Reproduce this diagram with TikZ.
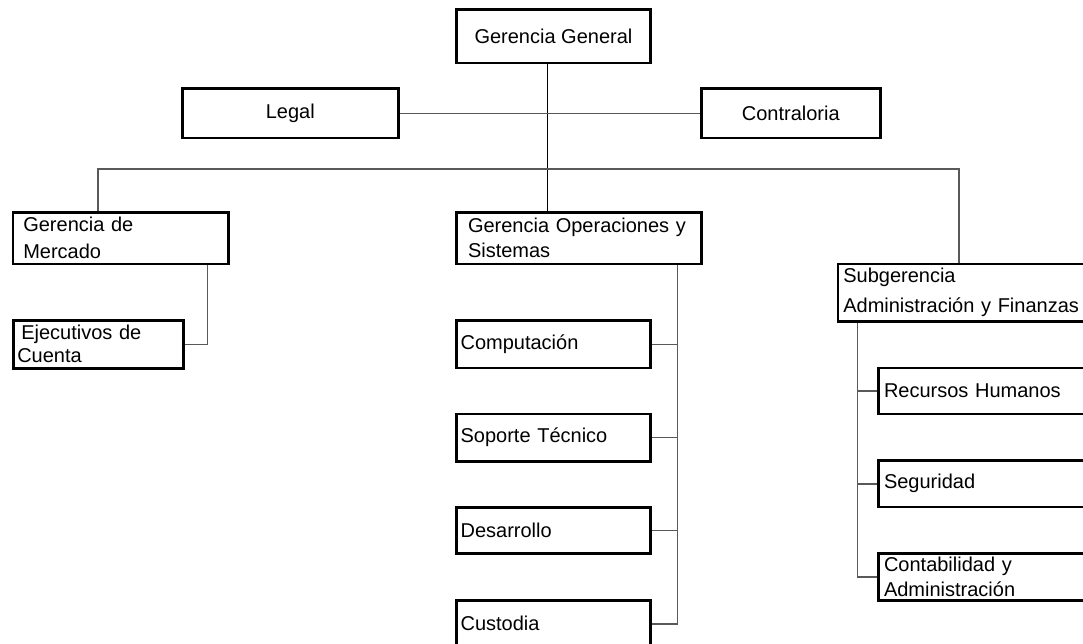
\documentclass[tikz,border=0pt]{standalone}
\usepackage{fontspec}
\setmainfont{Liberation Sans}
\begin{document}
\begin{tikzpicture}[x=1pt,y=-1pt]
\tikzset{
  box/.style={draw=black, line width=2.6pt, rectangle, inner ysep=0pt, anchor=north west,
              font=\fontsize{20}{27}\selectfont},
  cbox/.style={box, align=center, inner xsep=0pt},
  lbox/.style={box, align=left},
  conn/.style={draw=black!65, line width=1.4pt},
  connk/.style={draw=black, line width=0.9pt}
}
\useasboundingbox (0,0) rectangle (1083,644);
\clip (0,0) rectangle (1083,644);
\fill[white] (0,0) rectangle (1083,644);

% top level
\node[cbox, minimum width=194.3, minimum height=53.4] (gg) at (455,8.3) {Gerencia General};
\node[cbox, minimum width=216, minimum height=49.4] (legal) at (181,87.3) {Legal};
\node[cbox, minimum width=179, minimum height=49.4] (contra) at (700,87.3) {Contraloria};

% second level
\node[lbox, minimum width=215.3, minimum height=51, inner xsep=10.3, text width=194.7,
      font=\fontsize{20}{27}\selectfont] (gm) at (11.7,211.5) {Gerencia de\\Mercado};
\node[lbox, minimum width=245, minimum height=51, inner xsep=11.7, text width=221.6,
      font=\fontsize{20}{25}\selectfont] (gos) at (455,211.5) {Gerencia Operaciones y\\Sistemas};
\node[lbox, minimum width=253.3, minimum height=57.3, inner xsep=5.3, text width=242.7,
      font=\fontsize{20}{30}\selectfont] (sub) at (836.7,262.7) {Subgerencia\\Administración y Finanzas};

% under Gerencia de Mercado
\node[lbox, minimum width=170, minimum height=48, inner xsep=4, text width=162,
      font=\fontsize{20}{23}\selectfont] (ejec) at (12,319) {\hspace*{4pt}Ejecutivos de\\Cuenta};

% under Gerencia Operaciones y Sistemas
\node[lbox, minimum width=194.3, minimum height=47.4, inner xsep=4.3, text width=185.7] (comp) at (455,319.3) {Computación};
\node[lbox, minimum width=194.3, minimum height=47.3, inner xsep=4.3, text width=185.7] (sop) at (455,412.7) {Soporte Técnico};
\node[lbox, minimum width=194.3, minimum height=46.3, inner xsep=4.3, text width=185.7] (des) at (455,506) {Desarrollo};
\node[lbox, minimum width=194.3, minimum height=47, inner xsep=4.3, text width=185.7] (cust) at (455,599) {Custodia};

% under Subgerencia
\node[lbox, minimum width=212.7, minimum height=46, inner xsep=5.4, text width=201.9] (rh) at (877.3,366.7) {Recursos Humanos};
\node[lbox, minimum width=212.7, minimum height=46.4, inner xsep=5.4, text width=201.9] (seg) at (877.3,459.3) {Seguridad};
\node[lbox, minimum width=212.7, minimum height=46.7, inner xsep=5.4, text width=201.9,
      font=\fontsize{20}{25}\selectfont] (cont) at (877.3,552.3) {Contabilidad y\\Administración};

% helper coordinates
\coordinate (busy) at (0,169);
\coordinate (xgg) at (547,0);
\coordinate (xgm) at (98,0);
\coordinate (xsub) at (959,0);
\coordinate (xgmb) at (207.7,0);
\coordinate (xgos) at (677.5,0);
\coordinate (xsubb) at (857.3,0);

% connectors
\draw[connk] (gg.south -| xgg) -- (gos.north -| xgg);
\draw[conn] (legal.east) -- (contra.west);
\draw[conn] (gm.north -| xgm) -- (xgm |- busy) -- (xsub |- busy) -- (sub.north -| xsub);
\draw[conn] (gm.south -| xgmb) |- (ejec.east);
\draw[conn] (gos.south -| xgos) |- (cust.east);
\draw[conn] (xgos |- comp.east) -- (comp.east);
\draw[conn] (xgos |- sop.east) -- (sop.east);
\draw[conn] (xgos |- des.east) -- (des.east);
\draw[conn] (sub.south -| xsubb) |- (cont.west);
\draw[conn] (xsubb |- rh.west) -- (rh.west);
\draw[conn] (xsubb |- seg.west) -- (seg.west);
\end{tikzpicture}
\end{document}
